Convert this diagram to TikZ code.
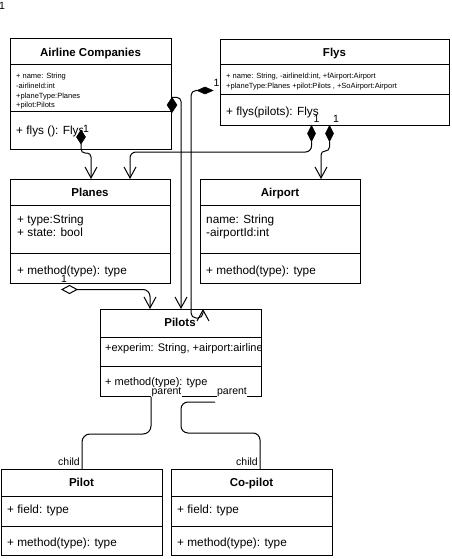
\documentclass[tikz,border=0pt]{standalone}
\usepackage{fontspec}
\setmainfont{Liberation Sans}
\usetikzlibrary{arrows.meta,shapes.geometric}
\begin{document}
\begin{tikzpicture}[x=1pt,y=-1pt,
  box/.style={draw, line width=1pt, rectangle, inner sep=0pt, outer sep=0pt, anchor=north west},
  ttl/.style={font=\fontsize{11.5}{13}\selectfont\bfseries, anchor=base, inner sep=0pt},
  txt/.style={font=\fontsize{11.8}{13}\selectfont, anchor=base west, inner sep=0pt},
  txs/.style={font=\fontsize{11}{13}\selectfont, anchor=base west, inner sep=0pt},
  tiny/.style={font=\fontsize{7.5}{9}\selectfont, anchor=base west, inner sep=0pt},
  sepline/.style={line width=1pt},
  conn/.style={line width=1pt, rounded corners=5pt},
  arr/.style={-{Straight Barb[length=11pt,width=12pt]}},
  comp/.style={diamond, fill=black, draw=black, inner sep=0pt, outer sep=0pt, line width=0.5pt},
  agg/.style={diamond, fill=white, draw=black, inner sep=0pt, outer sep=0pt, line width=1pt},
  lbl/.style={font=\fontsize{10.5}{12}\selectfont, fill=white, inner sep=0.5pt, anchor=base},
]
\useasboundingbox (0,0) rectangle (452,559);
\fill[white] (0,0) rectangle (452,559);

% ---- Airline Companies
\node[box, minimum width=161pt, minimum height=110pt] (ac) at (10,39) {};
\draw[sepline] (10,65) -- (171,65);
\draw[sepline] (10,112) -- (171,112);
\node[ttl] (act) at (90.5,56.5) {Airline Companies};
\node[tiny] (aca1) at (16,78.5) {+ name: String};
\node[tiny] (aca2) at (16,88.3) {-airlineId:int};
\node[tiny] (aca3) at (16,98.2) {+planeType:Planes};
\node[tiny] (aca4) at (16,108) {+pilot:Pilots};
\node[txt] (acm) at (16,134) {+ flys (): Flys};

% ---- Flys
\node[box, minimum width=229pt, minimum height=86pt] (fl) at (220,40) {};
\draw[sepline] (220,65) -- (449,65);
\draw[sepline] (220,95) -- (449,95);
\node[ttl] (flt) at (334.5,56.5) {Flys};
\node[tiny] (fla1) at (226,78.5) {+ name: String, -airlineId:int, +fAirport:Airport};
\node[tiny] (fla2) at (226,88.3) {+planeType:Planes +pilot:Pilots , +SoAirport:Airport};
\node[txt] (flm) at (226,115.5) {+ flys(pilots): Flys};

% ---- Planes
\node[box, minimum width=160pt, minimum height=104pt] (pl) at (10,179) {};
\draw[sepline] (10,205) -- (170,205);
\draw[sepline] (10,253) -- (170,253);
\node[ttl] (plt) at (90,196.5) {Planes};
\node[txt] (pla1) at (17,223) {+ type:String};
\node[txt] (pla2) at (17,236.5) {+ state: bool};
\node[txt] (plm) at (17,274) {+ method(type): type};

% ---- Airport
\node[box, minimum width=160pt, minimum height=104pt] (ap) at (200,179) {};
\draw[sepline] (200,205) -- (360,205);
\draw[sepline] (200,253) -- (360,253);
\node[ttl] (apt) at (280,196.5) {Airport};
\node[txt] (apa1) at (206,223) {name: String};
\node[txt] (apa2) at (206,236.5) {-airportId:int};
\node[txt] (apm) at (206,274) {+ method(type): type};

% ---- Pilots
\node[box, minimum width=161pt, minimum height=87pt] (ps) at (100,309) {};
\draw[sepline] (100,337) -- (261,337);
\draw[sepline] (100,366) -- (261,366);
\node[ttl] (pst) at (180,326.7) {Pilots};
\begin{scope}
\clip (100,338) rectangle (260.5,365);
\node[txs] (psa) at (105,351.5) {+experim: String, +airport:airline};
\end{scope}
\node[txs] (psm) at (105,385) {+ method(type): type};

% ---- Pilot
\node[box, minimum width=161pt, minimum height=86pt] (pi) at (1,469) {};
\draw[sepline] (1,496) -- (162,496);
\draw[sepline] (1,526) -- (162,526);
\node[ttl] (pit) at (81.5,486.7) {Pilot};
\node[txt] (pia) at (7,513) {+ field: type};
\node[txt] (pim) at (7,546) {+ method(type): type};

% ---- Co-pilot
\node[box, minimum width=161pt, minimum height=86pt] (cp) at (171,469) {};
\draw[sepline] (171,496) -- (332,496);
\draw[sepline] (171,526) -- (332,526);
\node[ttl] (cpt) at (251.5,486.7) {Co-pilot};
\node[txt] (cpa) at (177,513) {+ field: type};
\node[txt] (cpm) at (177,546) {+ method(type): type};

% ---- connector end points
\coordinate (pa) at (91,179);
\coordinate (pb) at (130,179);
\coordinate (apin) at (321,179);
\coordinate (pin1) at (150,309);
\coordinate (pin2) at (181,309);
\coordinate (pin3) at (203,309);
\coordinate (par1) at (151,397);
\coordinate (par2) at (215,402);
\coordinate (ch1) at (82,469);
\coordinate (ch2) at (260,469);

% ---- diamonds
\node[comp, minimum width=9pt, minimum height=14pt] (d1) at (81,137) {};
\node[comp, minimum width=10pt, minimum height=15pt] (d2) at (172,105) {};
\node[comp, minimum width=16pt, minimum height=7pt] (d3) at (205,90.5) {};
\node[comp, minimum width=8pt, minimum height=16pt] (d4) at (311.5,133.5) {};
\node[comp, minimum width=8pt, minimum height=16pt] (d5) at (329.5,133.5) {};

% ---- connectors
\draw[conn, rounded corners=4pt, arr] (d1.south) -- (81,153) -- (91,153) -- (pa);
\draw[conn, rounded corners=4pt, arr] (d2.north) -- (181,97.5) -- (pin2);
\draw[conn, rounded corners=5pt, arr] (d3.west) -- (191,90.5) -- (191,318) -- (203,318) -- (pin3);
\draw[conn, rounded corners=6pt, arr] (d4.south) -- (311.5,152) -- (130,152) -- (pb);
\draw[conn, rounded corners=4pt, arr] (d5.south) -- (329.5,151) -- (321,151) -- (apin);
\node[agg, minimum width=15pt, minimum height=8pt] (d6) at (69.5,289.5) {};
\draw[conn, rounded corners=7pt, arr] (d6.east) -- (150,289.5) -- (pin1);
\draw[conn, rounded corners=8pt] (par1) -- (151,434) -- (82,434) -- (ch1);
\draw[conn, rounded corners=7pt] (par2) -- (181,402) -- (181,433) -- (260,433) -- (ch2);

% ---- labels
\node[lbl, anchor=base west] (l0) at (-1.5,10) {1};
\node[lbl] (l1) at (86,132) {1};
\node[lbl] (l2) at (216.5,87) {1};
\node[lbl] (l3) at (316.5,123) {1};
\node[lbl] (l4) at (336,122) {1};
\node[lbl] (l5) at (64,282) {1};
\node[lbl] (lp1) at (166.5,394) {parent};
\node[lbl] (lp2) at (232,394) {parent};
\node[lbl, anchor=base east] (lc1) at (80.5,465) {child};
\node[lbl, anchor=base east] (lc2) at (258.5,465) {child};
\end{tikzpicture}
\end{document}
